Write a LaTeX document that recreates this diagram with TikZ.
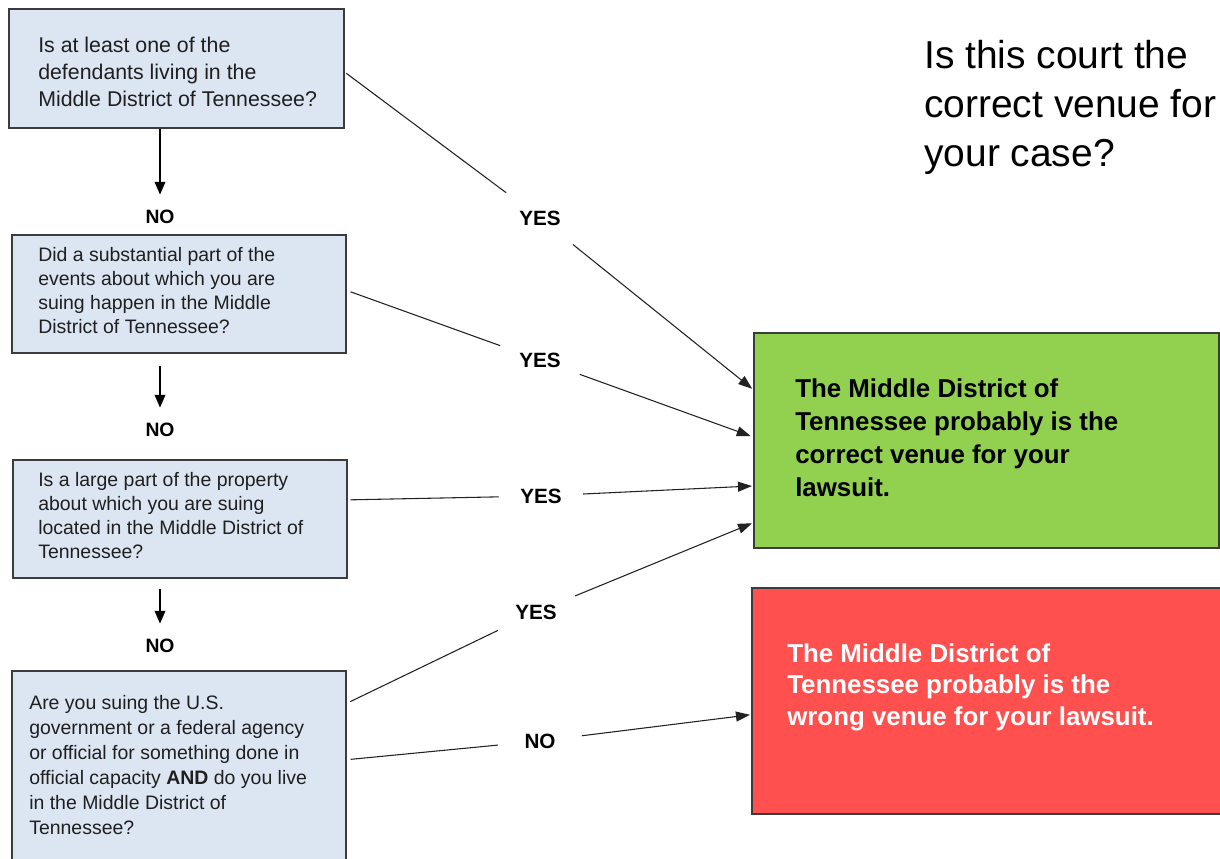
\documentclass[tikz,border=0pt]{standalone}
\usepackage{fontspec}
\setmainfont{Liberation Sans}
\usetikzlibrary{arrows.meta,calc,fit}
\definecolor{qfill}{HTML}{DCE6F2}
\definecolor{qedge}{HTML}{3C3C3C}
\definecolor{okfill}{HTML}{92D050}
\definecolor{badfill}{HTML}{FF5050}
\definecolor{wire}{HTML}{222222}

\begin{document}
\begin{tikzpicture}[x=0.75pt,y=-0.75pt,
  qbox/.style={draw=qedge, line width=1.1pt, fill=qfill, inner sep=0pt},
  okbox/.style={draw=qedge, line width=1.1pt, fill=okfill, inner sep=0pt},
  badbox/.style={draw=qedge, line width=1.1pt, fill=badfill, inner sep=0pt},
  qtext/.style={anchor=west, align=left, inner sep=0pt, text=black!88},
  answer/.style={anchor=west, align=left, inner sep=0pt, font=\bfseries\fontsize{19.4}{24.75}\selectfont},
  yeslbl/.style={circle, inner sep=0pt, minimum size=63pt, font=\bfseries\fontsize{15.5}{18}\selectfont},
  nolbl/.style={inner sep=0pt, font=\bfseries\fontsize{14.5}{17}\selectfont},
  downarrow/.style={draw=black, line width=1pt, -{Triangle[length=9.5pt,width=8pt]}, shorten >=11.5pt},
  link/.style={draw=wire, line width=0.8pt},
  linkarrow/.style={link, -{Triangle[length=10.5pt,width=7.5pt]}}
]
\useasboundingbox (0,0) rectangle (1220,859);

% question boxes
\node[qbox, fit={(9,9) (344,128)}] (q1) {};
\node[qbox, fit={(12,235) (346,353)}] (q2) {};
\node[qbox, fit={(13,460) (347,578)}] (q3) {};
\node[qbox, fit={(12,671) (346,864)}] (q4) {};

\node[qtext, font=\fontsize{16}{20.5}\selectfont] (t1) at (38,72)
  {Is at least one of the\\defendants living in the\\Middle District of Tennessee?};
\node[qtext, font=\fontsize{14.6}{18}\selectfont] (t2) at (38,291)
  {Did a substantial part of the\\events about which you are\\suing happen in the Middle\\District of Tennessee?};
\node[qtext, font=\fontsize{14.6}{18}\selectfont] (t3) at (38,516)
  {Is a large part of the property\\about which you are suing\\located in the Middle District of\\Tennessee?};
\node[qtext, font=\fontsize{14.6}{18.75}\selectfont] (t4) at (29,765)
  {Are you suing the U.S.\\government or a federal agency\\or official for something done in\\official capacity \textbf{AND} do you live\\in the Middle District of\\Tennessee?};

% outcome boxes
\node[okbox, fit={(754,333) (1219,548)}] (ok) {};
\node[answer] (oktxt) at (795,437.5)
  {The Middle District of\\Tennessee probably is the\\correct venue for your\\lawsuit.};
\node[badbox, fit={(752,588) (1245,814)}] (bad) {};
\node[answer, text=white, font=\bfseries\fontsize{19.4}{23.6}\selectfont] (badtxt) at (787,687)
  {The Middle District of\\Tennessee probably is the\\wrong venue for your lawsuit.};

% heading
\node[anchor=west, align=left, inner sep=0pt, font=\fontsize{29.2}{36.75}\selectfont] (title) at (924,107)
  {Is this court the\\correct venue for\\your case?};

% NO steps down the left column
\node[nolbl] (n1) at (160,217) {NO};
\node[nolbl] (n2) at (160,430) {NO};
\node[nolbl] (n3) at (160,646) {NO};
\draw[downarrow] (q1.south -| n1) -- (n1);
\draw[downarrow, shorten <=9pt] (q2.south -| n2) -- (n2);
\draw[downarrow, shorten <=7.5pt] (q3.south -| n3) -- (n3);

% YES / NO answers to the right
\node[yeslbl] (y1) at (540,218) {YES};
\node[yeslbl] (y2) at (540,360) {YES};
\node[yeslbl] (y3) at (541,496) {YES};
\node[yeslbl] (y4) at (536,612) {YES};
\node[yeslbl] (n5) at (540,741) {NO};

\coordinate (s1) at ($(q1.north east)!0.53!(q1.south east)$);
\coordinate (s2) at ($(q2.north east)!0.47!(q2.south east)$);
\coordinate (s3) at ($(q3.north east)!0.34!(q3.south east)$);
\coordinate (s4) at ($(q4.north east)!0.17!(q4.south east)$);
\coordinate (s5) at ($(q4.north east)!0.46!(q4.south east)$);
\coordinate (g1) at ($(ok.north west)!0.265!(ok.south west)$);
\coordinate (g2) at ($(ok.north west)!0.484!(ok.south west)$);
\coordinate (g3) at ($(ok.north west)!0.71!(ok.south west)$);
\coordinate (g4) at ($(ok.north west)!0.88!(ok.south west)$);
\coordinate (r1) at ($(bad.north west)!0.56!(bad.south west)$);

\draw[link, shorten <=1.5pt] (s1) -- (y1);
\draw[linkarrow, shorten >=1pt] (y1) -- (g1);
\draw[link, shorten <=3pt] (s2) -- (y2);
\draw[linkarrow, shorten >=2pt] (y2) -- (g2);
\draw[link, shorten <=2pt] (s3) -- (y3);
\draw[linkarrow, shorten >=1pt] (y3) -- (g3);
\draw[link, shorten <=3pt] (s4) -- (y4);
\draw[linkarrow, shorten >=1pt] (y4) -- (g4);
\draw[link, shorten <=3pt] (s5) -- (n5);
\draw[linkarrow, shorten >=1pt] (n5) -- (r1);
\end{tikzpicture}
\end{document}
